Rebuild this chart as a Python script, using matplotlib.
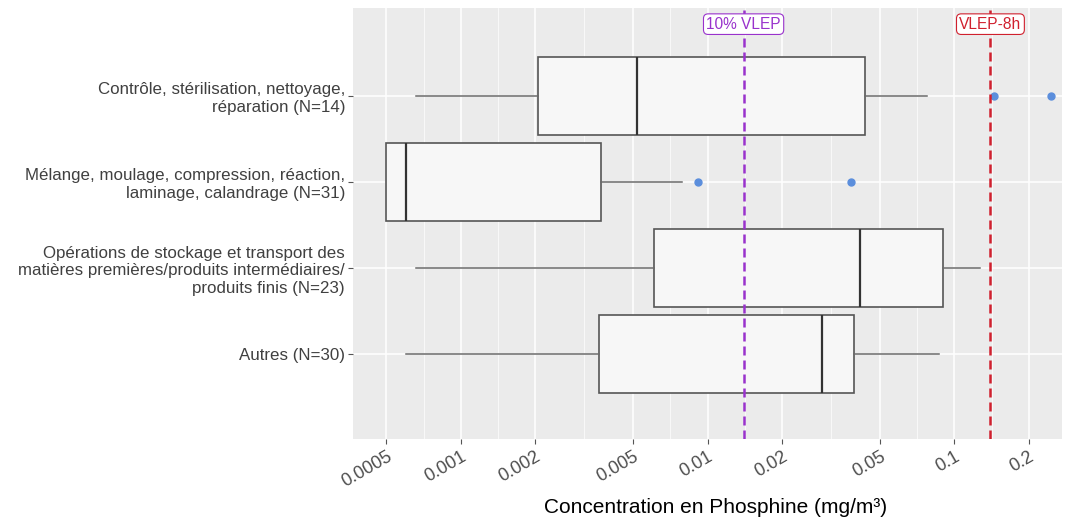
import matplotlib
matplotlib.use("Agg")
import matplotlib.pyplot as plt
import numpy as np

plt.rcParams['font.family'] = ['Liberation Sans', 'DejaVu Sans']

categories = [
    "Contrôle, stérilisation, nettoyage,\nréparation (N=14)",
    "Mélange, moulage, compression, réaction,\nlaminage, calandrage (N=31)",
    "Opérations de stockage et transport des\nmatières premières/produits intermédiaires/\nproduits finis (N=23)",
    "Autres (N=30)",
]
whislo = [0.00066, 0.00050, 0.00066, 0.00060]
q1 = [0.00206, 0.00050, 0.00605, 0.00364]
med = [0.00518, 0.00060, 0.0415, 0.0292]
q3 = [0.0434, 0.00369, 0.0902, 0.0393]
whishi = [0.0773, 0.00786, 0.127, 0.0869]
fliers = [[0.145, 0.247], [0.00915, 0.0383], [], []]

vlep = 0.14
vlep10 = 0.014
ref_labels = ["10% VLEP", "VLEP-8h"]
ref_values = [vlep10, vlep]
ref_colors = ["#9932CC", "#D0202E"]

major_ticks = [0.0005, 0.001, 0.002, 0.005, 0.01, 0.02, 0.05, 0.1, 0.2]
tick_labels = ["0.0005", "0.001", "0.002", "0.005", "0.01", "0.02", "0.05", "0.1", "0.2"]

fig = plt.figure(figsize=(10.68, 5.22), dpi=100)
ax = fig.add_axes([0.3302, 0.1584, 0.9944 - 0.3302, 0.9847 - 0.1584])
ax.set_facecolor("#EBEBEB")

ax.set_xscale("log")
ax.set_xlim(0.000365, 0.273)
ax.set_ylim(0.008, 5.023)

# grid
for t in major_ticks:
    ax.axvline(t, color="white", lw=1.1, zorder=0)
minor = [np.sqrt(a * b) for a, b in zip(major_ticks[:-1], major_ticks[1:])]
minor = [0.0005 ** 2 / np.sqrt(0.0005 * 0.001)] + minor + [np.sqrt(0.2 * 0.4)]
for t in minor:
    ax.axvline(t, color="white", lw=0.5, zorder=0)

ypos = [4, 3, 2, 1]
for y in ypos:
    ax.axhline(y, color="white", lw=1.1, zorder=0)

stats = []
for i in range(len(categories)):
    stats.append(dict(med=med[i], q1=q1[i], q3=q3[i], whislo=whislo[i],
                      whishi=whishi[i], fliers=fliers[i], label=categories[i]))

ax.bxp(stats, positions=ypos, widths=0.9, vert=False, showcaps=False,
       patch_artist=True,
       boxprops=dict(facecolor="#F7F7F7", edgecolor="#555555", linewidth=1.2),
       medianprops=dict(color="#333333", linewidth=1.6),
       whiskerprops=dict(color="#6A6A6A", linewidth=1.1),
       flierprops=dict(marker="o", markerfacecolor="#5B8EDC", markeredgecolor="#5B8EDC",
                       markersize=5),
       manage_ticks=False, zorder=2)

for lab, v, c in zip(ref_labels, ref_values, ref_colors):
    ax.axvline(v, color=c, lw=1.8, linestyle=(0, (3.6, 2)), zorder=3)
    ax.text(v, 4.835, lab, color=c, fontsize=11.2, ha="center", va="center", zorder=4,
            bbox=dict(boxstyle="round,pad=0.18,rounding_size=0.3", fc="white", ec=c, lw=0.8))

ax.set_yticks(ypos)
ax.set_yticklabels(categories, fontsize=12.2, color="#404040", linespacing=1.22)
ax.set_xticks(major_ticks)
ax.set_xticklabels(tick_labels, fontsize=13, color="#4D4D4D", rotation=30,
                   ha="right", rotation_mode="anchor")
ax.xaxis.set_minor_locator(matplotlib.ticker.NullLocator())
ax.tick_params(axis="both", length=3.5, color="#555555", width=0.8)
ax.tick_params(axis="y", pad=2)
ax.tick_params(axis="x", pad=3)
for s in ax.spines.values():
    s.set_visible(False)

ax.set_xlabel("Concentration en Phosphine (mg/m³)", fontsize=15, color="black", labelpad=6)
ax.xaxis.set_label_coords(0.512, -0.135)

fig.savefig("out.png", dpi=100)
